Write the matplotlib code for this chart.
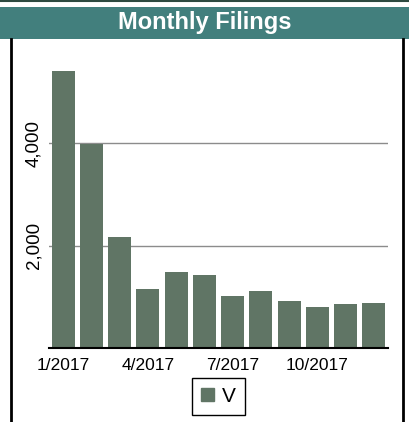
import numpy as np
import matplotlib
matplotlib.use("Agg")
import matplotlib.pyplot as plt
from matplotlib.patches import Rectangle, Patch
from matplotlib.lines import Line2D

plt.rcParams['font.family'] = ['Liberation Sans', 'DejaVu Sans']

months = ["1/2017", "2/2017", "3/2017", "4/2017", "5/2017", "6/2017",
          "7/2017", "8/2017", "9/2017", "10/2017", "11/2017", "12/2017"]
filings = [5410, 3990, 2175, 1160, 1490, 1430, 1020, 1120, 925, 805, 865, 885]
shown_ticks = [0, 3, 6, 9]
series_name = "V"
title = "Monthly Filings"

W, H = 409, 422
fig = plt.figure(figsize=(W / 100, H / 100), dpi=100)

# title band and frame
fig.patches.append(Rectangle((0, 1 - 39 / H), 1, 32 / H, transform=fig.transFigure,
                             facecolor="#427f7d", edgecolor="none", zorder=0))
fig.lines.append(Line2D([0, 1], [1 - 0.8 / H, 1 - 0.8 / H], transform=fig.transFigure,
                        color="#2d4a40", lw=1.5))
for xp in (11 / W, 403 / W):
    fig.lines.append(Line2D([xp, xp], [0, 1 - 39 / H], transform=fig.transFigure,
                            color="black", lw=2))
fig.text(205 / W, 1 - 22.5 / H, title, color="white", fontsize=17, fontweight="bold",
         ha="center", va="center")

ax = fig.add_axes([49 / W, 74 / H, 339 / W, 307 / H])
x = np.arange(len(months))
ax.bar(x, filings, width=0.82, color="#607565", zorder=2)
ax.set_xlim(-0.5, len(months) - 0.5)
ax.set_ylim(0, 6000)
ax.set_yticks([2000, 4000])
ax.set_yticklabels([f"{v:,}" for v in [2000, 4000]], rotation=90, va="center", fontsize=13.5)
ax.set_xticks(shown_ticks)
ax.set_xticklabels([months[i] for i in shown_ticks], fontsize=12.5)
ax.tick_params(axis="both", length=0)
ax.tick_params(axis="y", pad=5)
ax.tick_params(axis="x", pad=7)
ax.grid(axis="y", color="#8c8c8c", lw=1, zorder=1)
for s in ("left", "right", "top"):
    ax.spines[s].set_visible(False)
ax.spines["bottom"].set_color("black")
ax.spines["bottom"].set_linewidth(1.5)
ax.spines["bottom"].set_zorder(3)

leg = fig.legend(handles=[Patch(color="#607565", label=series_name)], loc="center",
                 bbox_to_anchor=(218.5 / W, 1 - 396.5 / H), fontsize=15,
                 fancybox=False, edgecolor="black", framealpha=1,
                 handlelength=0.6, handleheight=0.6, handletextpad=0.4,
                 borderpad=0.45, borderaxespad=0)
leg.get_frame().set_linewidth(1)

fig.savefig("out.png", dpi=100)
